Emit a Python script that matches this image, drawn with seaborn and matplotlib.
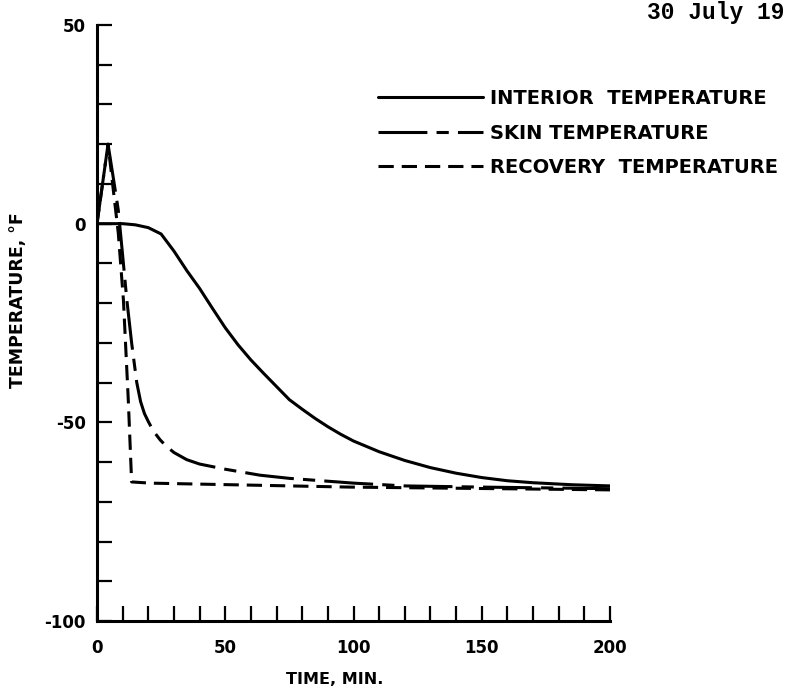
import matplotlib
matplotlib.use("Agg")
import matplotlib.pyplot as plt
import seaborn as sns
import pandas as pd
from matplotlib.ticker import MultipleLocator, FixedLocator

# ---- data ----
interior_t = [0, 5, 10, 15, 20, 25, 30, 35, 40, 45, 50, 55, 60, 65, 70, 75, 80, 85, 90, 95,
              100, 110, 120, 130, 140, 150, 160, 170, 185, 200]
interior_T = [0, 0, 0, -0.3, -1.0, -2.6, -6.9, -11.8, -16.3, -21.3, -26.2, -30.5, -34.3, -37.7,
              -41.0, -44.3, -46.7, -49.0, -51.1, -53.0, -54.7, -57.4, -59.6, -61.4, -62.8,
              -63.9, -64.7, -65.2, -65.7, -66.0]

skin_t = [0, 4.3, 6, 8.3, 10, 11.6, 13.5, 15.5, 17, 18.5, 20, 22, 24.6, 27, 30, 35, 40, 50,
          63.5, 75, 100, 120, 150, 175, 200]
skin_T = [0, 20, 13, 3.4, -8, -19, -30, -40, -44.8, -47.8, -49.8, -52.2, -54.4, -56.0, -57.6,
          -59.4, -60.5, -61.8, -63.3, -64.1, -65.3, -66.0, -66.3, -66.5, -66.7]

recovery_t = [0, 4.3, 8.3, 10.3, 12.2, 13.5, 20.7, 98.6, 200]
recovery_T = [0, 20, -2.4, -19.2, -44.4, -65, -65.3, -66.3, -67]

series_names = ["INTERIOR  TEMPERATURE", "SKIN TEMPERATURE", "RECOVERY  TEMPERATURE"]
x_ticklabels = ["0", "50", "100", "150", "200"]
y_ticklabels = ["-100", "-50", "0", "50"]

df = pd.concat([
    pd.DataFrame({"t": interior_t, "T": interior_T, "series": series_names[0]}),
    pd.DataFrame({"t": skin_t, "T": skin_T, "series": series_names[1]}),
    pd.DataFrame({"t": recovery_t, "T": recovery_T, "series": series_names[2]}),
])

sns.set_style("white")
plt.rcParams["font.family"] = ["DejaVu Sans"]
plt.rcParams["font.weight"] = "bold"
for k in ["text.color", "axes.labelcolor", "xtick.color", "ytick.color"]:
    plt.rcParams[k] = "black"

fig = plt.figure(figsize=(7.93, 6.87), dpi=100)
ax = fig.add_axes([97 / 793, 1 - 621 / 687, (610 - 97) / 793, (621 - 25) / 687])

sns.lineplot(
    data=df, x="t", y="T", hue="series", style="series",
    hue_order=series_names, style_order=series_names,
    palette=["black"] * 3,
    dashes={series_names[0]: "", series_names[1]: (16, 3, 4, 3), series_names[2]: (5, 2.6)},
    linewidth=2.2, sort=False, estimator=None, ax=ax,
)

ax.set_xlim(0, 200)
ax.set_ylim(-100, 50)

for s in ["top", "right"]:
    ax.spines[s].set_visible(False)
for s in ["left", "bottom"]:
    ax.spines[s].set_linewidth(2.2)
    ax.spines[s].set_color("black")

ax.xaxis.set_major_locator(FixedLocator([0, 50, 100, 150, 200]))
ax.set_xticklabels(x_ticklabels)
ax.yaxis.set_major_locator(FixedLocator([-100, -50, 0, 50]))
ax.set_yticklabels(y_ticklabels)
ax.xaxis.set_minor_locator(MultipleLocator(10))
ax.yaxis.set_minor_locator(MultipleLocator(10))
ax.tick_params(which="both", direction="in", length=11, width=1.6, color="black",
               bottom=True, left=True)
ax.tick_params(axis="x", which="major", pad=13, labelsize=12)
ax.tick_params(axis="y", which="major", pad=8, labelsize=12)
for lab in ax.get_xticklabels() + ax.get_yticklabels():
    lab.set_fontweight("bold")

ax.set_xlabel("TIME, MIN.", fontsize=11.5, fontweight="bold")
ax.xaxis.set_label_coords((335 - 97) / 513, -(672 - 621) / 596)
ax.set_ylabel("TEMPERATURE, °F", fontsize=12.5, fontweight="bold")
ax.yaxis.set_label_coords((27 - 97) / 513, (621 - 300) / 596)

leg = ax.legend(
    loc="upper left", bbox_to_anchor=(378 / 793, 1 - 89 / 687),
    bbox_transform=fig.transFigure, frameon=False, borderpad=0, borderaxespad=0,
    handlelength=5.4, handletextpad=0.35, labelspacing=0.8,
    prop={"size": 14, "weight": "bold"}, title=None,
)

fig.text(647 / 793, 1 - 13 / 687, "30 July 19", family="Liberation Mono",
         fontsize=16.5, fontweight="bold", va="center", ha="left", color="black")

fig.savefig("out.png", dpi=100)
